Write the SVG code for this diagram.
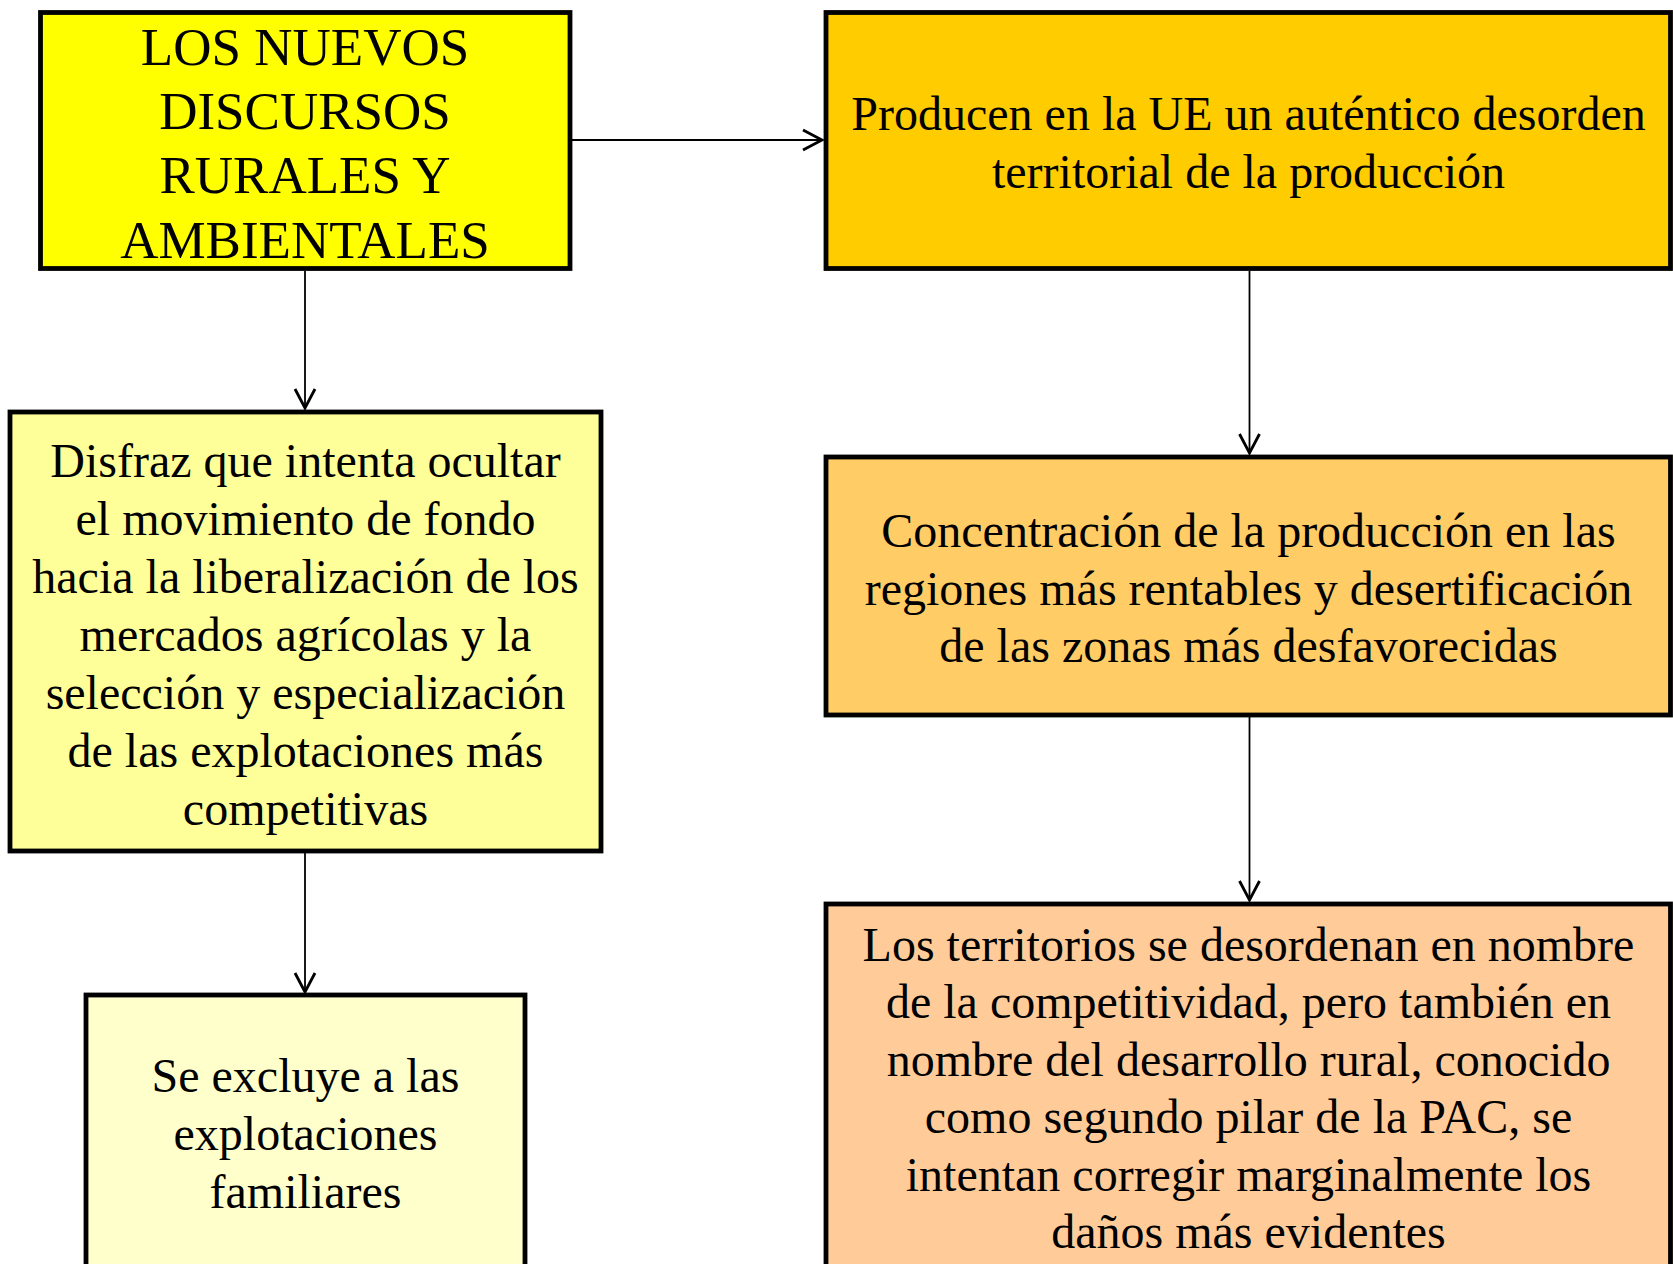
<svg xmlns="http://www.w3.org/2000/svg" width="1673" height="1264" viewBox="0 0 1673 1264">
<style>
.box{stroke:#000;stroke-width:4.8}
.t{font-family:"Liberation Serif","Times New Roman",serif;font-size:48px;fill:#000;text-anchor:middle}
.big{font-size:53px}
.c{stroke:#000;stroke-width:1.8;fill:none}
</style>
<defs>
<marker id="arr" markerUnits="userSpaceOnUse" viewBox="-22 -12 24 24" refX="0" refY="0" markerWidth="24" markerHeight="24" orient="auto">
<path d="M-19,-10 L0,0 L-19,10" fill="none" stroke="#000" stroke-width="2.8"/>
</marker>
</defs>
<rect width="1673" height="1264" fill="#fff"/>
<g id="connectors">
<line class="c" x1="572" y1="140" x2="822" y2="140" marker-end="url(#arr)"/>
<line class="c" x1="305" y1="271" x2="305" y2="408" marker-end="url(#arr)"/>
<line class="c" x1="305" y1="853" x2="305" y2="992" marker-end="url(#arr)"/>
<line class="c" x1="1249.5" y1="271" x2="1249.5" y2="453" marker-end="url(#arr)"/>
<line class="c" x1="1249.5" y1="717" x2="1249.5" y2="900" marker-end="url(#arr)"/>
</g>
<g id="n1">
<rect class="box" x="40.5" y="12.5" width="529.5" height="256" fill="#FFFF00"/>
<text class="t big" x="305" y="65">LOS NUEVOS</text>
<text class="t big" x="305" y="129.2">DISCURSOS</text>
<text class="t big" x="305" y="193.4">RURALES Y</text>
<text class="t big" x="305" y="257.6">AMBIENTALES</text>
</g>
<g id="n2">
<rect class="box" x="826" y="12.5" width="844.5" height="256" fill="#FFCC00"/>
<text class="t" x="1248.5" y="130">Producen en la UE un auténtico desorden</text>
<text class="t" x="1248.5" y="188.3">territorial de la producción</text>
</g>
<g id="n3">
<rect class="box" x="10" y="412" width="591" height="439" fill="#FFFF99"/>
<text class="t" x="305.5" y="476.7">Disfraz que intenta ocultar</text>
<text class="t" x="305.5" y="534.7">el movimiento de fondo</text>
<text class="t" x="305.5" y="592.7">hacia la liberalización de los</text>
<text class="t" x="305.5" y="650.7">mercados agrícolas y la</text>
<text class="t" x="305.5" y="708.7">selección y especialización</text>
<text class="t" x="305.5" y="766.7">de las explotaciones más</text>
<text class="t" x="305.5" y="824.7">competitivas</text>
</g>
<g id="n4">
<rect class="box" x="826" y="457" width="844.5" height="258" fill="#FFCC66"/>
<text class="t" x="1248.5" y="547">Concentración de la producción en las</text>
<text class="t" x="1248.5" y="604.5">regiones más rentables y desertificación</text>
<text class="t" x="1248.5" y="662">de las zonas más desfavorecidas</text>
</g>
<g id="n5">
<rect class="box" x="86" y="995" width="439" height="290" fill="#FFFFCC"/>
<text class="t" x="305.5" y="1092">Se excluye a las</text>
<text class="t" x="305.5" y="1150">explotaciones</text>
<text class="t" x="305.5" y="1208">familiares</text>
</g>
<g id="n6">
<rect class="box" x="826" y="904" width="844.5" height="380" fill="#FFCC99"/>
<text class="t" x="1248.5" y="960.7">Los territorios se desordenan en nombre</text>
<text class="t" x="1248.5" y="1018.2">de la competitividad, pero también en</text>
<text class="t" x="1248.5" y="1075.7">nombre del desarrollo rural, conocido</text>
<text class="t" x="1248.5" y="1133.2">como segundo pilar de la PAC, se</text>
<text class="t" x="1248.5" y="1190.7">intentan corregir marginalmente los</text>
<text class="t" x="1248.5" y="1248.2">daños más evidentes</text>
</g>
</svg>
